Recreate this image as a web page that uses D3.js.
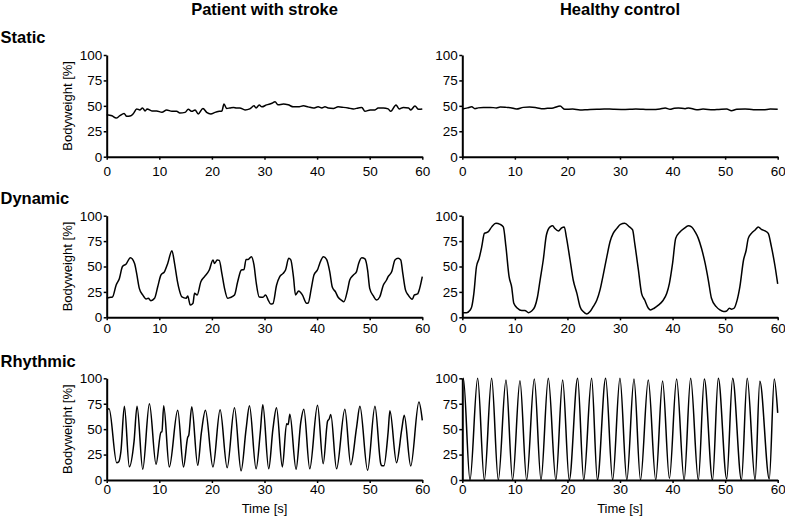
<!DOCTYPE html>
<html>
<head>
<meta charset="utf-8">
<script src="https://cdn.jsdelivr.net/npm/d3@7"></script>
<style>
  html, body { margin: 0; padding: 0; background: #fff; }
  svg { display: block; }
  text { font-family: "Liberation Sans", Arial, sans-serif; fill: #000; }
</style>
</head>
<body>
<svg id="chart" width="785" height="518"></svg>
<script>
// ---------------- DATA ----------------
const columnTitles = ["Patient with stroke", "Healthy control"];
const rowTitles = ["Static", "Dynamic", "Rhythmic"];
const xTicks = [0, 10, 20, 30, 40, 50, 60];
const yTicks = [0, 25, 50, 75, 100];
const yLabel = "Bodyweight [%]";
const xLabel = "Time [s]";

// [time s, bodyweight %]
const staticStroke = [[0,41.3],[1,40.3],[1.8,38],[2.5,40.3],[3.3,42.6],[3.8,39.7],[4.6,40.3],[5.1,42.6],[5.7,47],[6.3,46],[6.8,47.9],[7.3,45],[7.7,47],[8.6,45],[9.5,45],[10.5,43.6],[11.4,46],[12.4,44.6],[13.3,44.6],[13.9,43],[14.9,43.6],[15.5,46.6],[16.2,44.6],[16.8,46],[17.4,42],[18.3,47.5],[19,43.6],[19.8,42],[20.6,43.6],[21.4,44.6],[21.9,45],[22.3,51.8],[22.8,47.5],[23.4,47.9],[24.1,48.5],[24.7,47.9],[25.3,47.9],[26.3,46],[27.2,47],[28,50],[28.4,47.9],[29,50.8],[29.5,49],[30.4,51],[31.4,52.5],[32,54],[32.6,51],[33.6,51.8],[34.5,51],[35.5,49],[36.4,49],[37.4,50],[38.3,49],[39.3,47.9],[40.2,49],[40.9,47.9],[41.5,49],[42.1,47.9],[43.1,47.5],[44,49],[45,48.5],[45.9,47.9],[46.9,47],[47.8,47.9],[48.5,48.5],[49.1,44.6],[50.1,46],[51,46],[51.6,47.9],[52.6,47.9],[53.5,47],[54,44.6],[55,50.8],[55.6,47],[56.4,48.5],[57.4,47.9],[57.8,46],[58.6,49.8],[59.3,46.6],[60,47]];

const staticHealthy = [[0,46.9],[1,48],[1.8,49],[2.4,47.2],[3,48],[4,48.5],[5.3,48.5],[6.5,48],[7.2,48.8],[8.4,48.5],[9.2,48.2],[10.3,46.9],[11.6,48.5],[12.8,48.8],[14.1,48.2],[15.4,47.2],[16.2,47.6],[17.3,48],[18.6,49.8],[19.5,46.6],[21,46.8],[22.4,45.9],[23.8,46.2],[25.6,46.6],[27,47],[28.7,46.6],[30.2,46.4],[31.9,46.6],[33,46.9],[34.4,46.6],[36,46.3],[37.6,46.9],[38.6,47.9],[39.5,46.6],[40.3,47.6],[41.1,48],[42.4,47.2],[43,48],[44.6,46.2],[45.8,46.8],[47.7,46.2],[48.8,46.5],[50.3,46.9],[51.2,45.2],[52.2,46.6],[53.8,46.9],[55.4,46.2],[57.3,46.2],[58.6,46.8],[60,46.6]];

const dynamicStroke = [[0,18.7],[0.5,19.5],[1.1,20],[1.8,31.8],[2.4,38],[3.0,50],[3.7,52.5],[4.5,58.7],[5.3,53],[5.7,43],[6.2,28.5],[6.85,22],[7.5,18],[7.9,18.7],[8.4,16.4],[9.1,18.7],[9.7,30],[10.3,41.6],[11,45],[11.6,53],[12.4,65.6],[12.9,53],[13.4,36.7],[13.8,27],[14.3,20],[15.1,18.7],[15.4,21],[15.9,12],[16.4,13.8],[16.7,23.6],[17.2,22],[17.9,35],[18.6,40],[19.5,46.5],[20.2,56.4],[20.5,53],[21,56.4],[21.4,56],[21.9,43],[22.4,28.5],[23,18.7],[23.5,19.5],[24.3,22],[24.9,35],[25.6,46.5],[26.1,47],[26.5,57],[26.9,57],[27.5,59.7],[28,51.5],[28.4,35],[29,20],[29.7,19.7],[30.2,22],[30.7,17],[31.2,13],[31.6,13.5],[32.3,31.8],[32.9,40],[33.5,43],[34,46.5],[34.6,58],[35,56.5],[35.5,40],[35.9,22],[36.5,26],[37.2,22],[38,13.8],[38.3,14],[38.9,28.5],[39.4,41.6],[40.1,47],[40.5,53],[41.2,59.7],[41.8,57],[42.4,45],[42.9,29.5],[43.5,25],[44,19.7],[44.6,17],[45.1,15.4],[45.8,27],[46.2,36.7],[46.9,41.6],[47.5,45],[47.9,53],[48.5,58.7],[49.1,57.5],[49.6,46.5],[50,28.5],[50.7,21],[51.3,17],[51.9,20],[52.6,31.8],[53.2,36.7],[53.5,40],[54.2,45],[54.8,56.4],[55.4,58],[55.9,56.5],[56.3,43],[56.8,27],[57.3,22],[58.1,17.7],[58.5,22],[59.1,23],[59.5,28.5],[60,40]];

const dynamicHealthy = [[0,4.6],[0.8,4.6],[1.5,7.2],[1.8,10.5],[2.2,23.6],[2.7,50],[3.2,58],[3.7,69.5],[4.2,82.6],[4.9,84],[5.6,89],[6.4,92.5],[7.2,91.5],[7.8,89],[8.3,69.5],[8.9,40],[9.4,29.5],[9.8,13.8],[10.5,8.9],[11.3,6.6],[11.9,6.8],[12.6,4.6],[13.2,6.2],[13.8,10.5],[14.3,20],[14.8,36.7],[15.4,56.4],[16,81],[16.7,89],[17.2,90],[17.6,87.5],[18.3,85],[18.9,88],[19.4,89],[19.8,79],[20.5,56.4],[21.1,36.7],[21.8,23.6],[22.4,10.5],[23,5.6],[23.7,3.3],[24.3,5.6],[24.9,10.5],[25.6,17],[26.2,27],[26.8,41.6],[27.5,59.7],[28.1,74.4],[28.7,82.6],[29.4,87.5],[30.1,91.5],[30.9,92.5],[31.8,89],[32.4,86],[32.8,72.8],[33.5,46.6],[34.1,23.6],[34.7,17],[35.4,8.9],[35.8,7.2],[36.5,8.9],[37.3,12],[38.1,16],[38.9,23.6],[39.4,33.4],[40,53],[40.6,77.7],[41.4,84],[42.2,87.5],[43,90],[43.6,89],[44.3,84],[44.9,77.7],[45.5,67.9],[46.2,53],[46.8,36.7],[47.4,18.7],[48.3,10.5],[49,7.2],[49.7,5.6],[50.3,6.2],[50.8,8.9],[51.2,8],[51.7,8.9],[52.2,15.4],[52.8,30],[53.5,56.4],[54,66],[54.4,77.7],[55,82.6],[55.7,86],[56.3,89],[56.9,86.6],[57.6,85],[58.2,82.6],[58.8,69.5],[59.5,50],[60,32.8]];

const rhythmicStroke = [[0,69],[0.45,70],[1.9,17],[2.3,18],[2.7,28],[3.36,72.5],[4.3,13],[5.2,38],[5.77,72.5],[6.85,10.5],[8.12,75],[9.38,15.4],[10.3,47],[10.5,47.5],[10.84,73],[11.9,12.8],[13.5,68.5],[14.6,12.8],[15.4,42],[15.6,44],[16.17,72],[17.3,14.4],[18.0,46.5],[18.77,68.5],[20.2,12.8],[21.56,69],[22.9,12],[24.29,71],[25.55,9],[26.5,50],[27.14,73],[28.4,11],[29.2,47],[29.68,74],[30.8,11],[31.6,50],[32.28,71],[33.4,12.8],[34.2,55.4],[34.5,54.5],[34.82,64.6],[36.0,10.5],[36.9,57],[37.48,69.5],[38.6,11],[40.08,73.4],[41.16,16],[42.0,58],[42.3,60],[42.6,64.3],[43.7,11],[45.28,69.5],[46.4,15],[47.5,51.5],[48.14,72.5],[49.6,9.5],[51.0,72.5],[52.1,16],[52.3,14],[52.7,14],[53.5,47],[53.84,68],[55.1,17],[56.1,50],[56.57,63.6],[57.8,13.8],[59.36,76.7],[60,58.7]];

const rhythmicHealthy = [[0,98],[0.2,100],[1.46,0],[2.92,100],[4.19,0],[5.58,100],[6.85,0],[8.31,98.4],[9.57,0],[10.97,97.7],[12.24,0],[13.7,99.3],[14.97,0],[16.36,100],[17.8,0],[19.09,98.4],[20.35,0],[21.94,100],[23.1,0],[24.6,100],[25.7,0],[27.27,100],[28.6,0],[29.99,100],[31.3,0],[32.66,99.3],[33.9,0],[35.38,98.4],[36.8,0],[38.1,97.4],[39.4,1.5],[40.77,99.3],[42.2,0],[43.44,100],[44.9,0],[46.04,99.3],[47.6,0],[48.7,100],[50.3,1],[51.43,100],[53.1,0],[54.2,100],[55.7,0],[56.6,97],[58.4,1],[59.35,99.3],[60,66]];

const series = [
  [staticStroke, staticHealthy],
  [dynamicStroke, dynamicHealthy],
  [rhythmicStroke, rhythmicHealthy]
];

// ---------------- LAYOUT ----------------
const colX = [[106.7, 422.3], [462.3, 777.7]];
const rowY = [[156.7, 55], [317.3, 215.7], [480, 378.3]];
const xLabelPad = [7, 3, 1.5];

const svg = d3.select("#chart");

columnTitles.forEach((t, c) => {
  svg.append("text")
    .attr("x", (colX[c][0] + colX[c][1]) / 2)
    .attr("y", 15)
    .attr("text-anchor", "middle")
    .style("font-weight", "bold")
    .style("font-size", "16.5px")
    .text(t);
});

const rowTitleY = [42.7, 204, 367];
rowTitles.forEach((t, r) => {
  svg.append("text")
    .attr("x", 0.5)
    .attr("y", rowTitleY[r])
    .style("font-weight", "bold")
    .style("font-size", "16.5px")
    .text(t);
});

series.forEach((rowSeries, r) => {
  rowSeries.forEach((data, c) => {
    const x = d3.scaleLinear().domain([0, 60]).range(colX[c]);
    const y = d3.scaleLinear().domain([0, 100]).range(rowY[r]);
    const g = svg.append("g");

    const line = d3.line()
      .x(d => x(d[0]))
      .y(d => y(d[1]))
      .curve(d3.curveMonotoneX);

    g.append("path")
      .datum(data.slice().sort((a, b) => a[0] - b[0]))
      .attr("d", line)
      .attr("fill", "none")
      .attr("stroke", "#000")
      .attr("stroke-width", 1.5)
      .attr("stroke-linejoin", "round");

    const xAxis = g.append("g")
      .attr("transform", `translate(0,${rowY[r][0]})`)
      .call(d3.axisBottom(x).tickValues(xTicks).tickSize(3).tickSizeOuter(0).tickPadding(xLabelPad[r]));
    const yAxis = g.append("g")
      .attr("transform", `translate(${colX[c][0]},0)`)
      .call(d3.axisLeft(y).tickValues(yTicks).tickSize(3).tickSizeOuter(0).tickPadding(1.5));

    [xAxis, yAxis].forEach(a => {
      a.select(".domain").attr("stroke", "#000").attr("stroke-width", 2);
      a.selectAll(".tick line").attr("stroke", "#000").attr("stroke-width", 1.5);
      a.selectAll(".tick text")
        .style("font-family", '"Liberation Sans", Arial, sans-serif')
        .style("font-size", "13.5px")
        .attr("fill", "#000");
    });

    if (c === 0) {
      svg.append("text")
        .attr("transform", "rotate(-90)")
        .attr("x", -(rowY[r][0] + rowY[r][1]) / 2)
        .attr("y", 72)
        .attr("text-anchor", "middle")
        .style("font-size", "13px")
        .text(yLabel);
    }
    if (r === 2) {
      svg.append("text")
        .attr("x", (colX[c][0] + colX[c][1]) / 2)
        .attr("y", 513)
        .attr("text-anchor", "middle")
        .style("font-size", "13px")
        .text(xLabel);
    }
  });
});
</script>
</body>
</html>
